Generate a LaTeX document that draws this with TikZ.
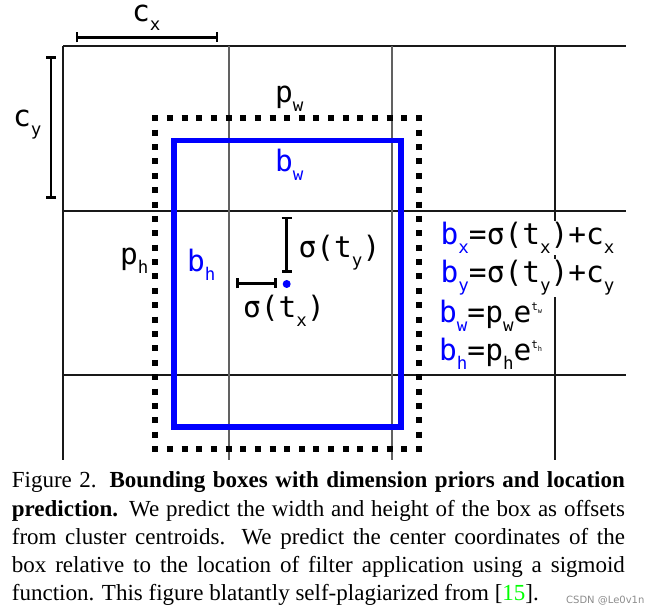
\documentclass[tikz,border=0pt]{standalone}
\usepackage{fontspec}
\setmainfont{Liberation Serif}
\newfontfamily\dvs{DejaVu Sans}
\newfontfamily\dvm{DejaVu Sans Mono}
\usetikzlibrary{arrows.meta}
\newcommand{\sbx}[1]{\raisebox{-9pt}{\fontsize{17.5}{17.5}\selectfont #1}}
\newcommand{\spx}[2]{\raisebox{12pt}{\fontsize{11}{11}\selectfont #1\raisebox{-3pt}{\fontsize{7}{7}\selectfont #2}}}
\begin{document}
\begin{tikzpicture}[x=1pt,y=-1pt,
  gridk/.style={line width=1.3pt, black!90},
  gridg/.style={line width=1.3pt, black!62},
  dimbar/.style={line width=2.6pt, {Bar[width=10pt]}-{Bar[width=10pt]}},
  lbl/.style={anchor=base west, inner sep=0pt, font=\dvm\fontsize{29.5}{36}\selectfont},
  eqn/.style={lbl, fill=white, inner sep=1.5pt},
  dotk/.style={line width=6pt, black},
  bbox/.style={line width=5.5pt, blue},
  captext/.style={anchor=base west, inner sep=0pt, font=\fontsize{23}{26}\selectfont}]
\useasboundingbox (0,0) rectangle (657,615);
% grid
\draw[gridk] (63,46) -- (626,46);
\draw[gridk] (63,211) -- (626,211);
\draw[gridk] (63,375) -- (626,375);
\draw[gridk] (63,46) -- (63,460);
\draw[gridg] (229,46) -- (229,460);
\draw[gridg] (392,46) -- (392,460);
\draw[gridk] (555,46) -- (555,460);
% prior box (dotted)
\draw[dotk, dash pattern=on 6pt off 8.65pt] (152.3,118.3) -- (422,118.3);
\draw[dotk, dash pattern=on 6pt off 8.65pt] (152.3,449) -- (422,449);
\draw[dotk, dash pattern=on 6pt off 8.38pt] (155.3,115.3) -- (155.3,452);
\draw[dotk, dash pattern=on 6pt off 8.38pt] (419,115.3) -- (419,452);
% predicted box
\draw[bbox] (174,140.5) rectangle (400.8,427);
% dimension bars
\coordinate (cxa) at (75.7,37.3);
\coordinate (cxb) at (218.3,37.3);
\coordinate (cya) at (51,56);
\coordinate (cyb) at (51,199);
\coordinate (tya) at (286.7,216.7);
\coordinate (tyb) at (286.7,272.7);
\coordinate (txa) at (236,283.3);
\coordinate (txb) at (276.7,283.3);
\draw[dimbar] (cxa) -- (cxb);
\draw[dimbar] (cya) -- (cyb);
\draw[dimbar] (tya) -- (tyb);
\draw[dimbar] (txa) -- (txb);
\fill[blue] (286.7,284) circle (4pt);
% labels
\node[lbl] (cx) at (132,21.7) {c\sbx{x}};
\node[lbl] (cy) at (13,126.7) {c\sbx{y}};
\node[lbl] (pw) at (275,103) {p\sbx{w}};
\node[lbl, text=blue] (bw) at (275,171.7) {b\sbx{w}};
\node[lbl] (ph) at (120,265) {p\sbx{h}};
\node[lbl, text=blue] (bh) at (187,271.7) {b\sbx{h}};
\node[lbl] (sty) at (298.5,258) {σ(t\sbx{y})};
\node[lbl] (stx) at (243,318) {σ(t\sbx{x})};
% equations
\node[eqn] (e1) at (439,245) {{\color{blue}b\sbx{x}}=σ(t\sbx{x})+c\sbx{x}};
\node[eqn] (e2) at (439,283) {{\color{blue}b\sbx{y}}=σ(t\sbx{y})+c\sbx{y}};
\node[lbl] (e3) at (439,322.7) {{\color{blue}b\sbx{w}}=p\sbx{w}e\spx{t}{w}};
\node[lbl] (e4) at (439,360) {{\color{blue}b\sbx{h}}=p\sbx{h}e\spx{t}{h}};
% caption
\node[captext] (l1) at (11.7,487.5) {\makebox[613pt][s]{Figure 2. \textbf{Bounding boxes with dimension priors and location}}};
\node[captext] (l2) at (11.7,516) {\makebox[613pt][s]{\textbf{prediction.} We predict the width and height of the box as offsets}};
\node[captext] (l3) at (11.7,544) {\makebox[613pt][s]{from cluster centroids. We predict the center coordinates of the}};
\node[captext] (l4) at (11.7,572) {\makebox[613pt][s]{box relative to the location of filter application using a sigmoid}};
\node[captext] (l5) at (11.7,600) {function. This figure blatantly self-plagiarized from [{\color{green}15}].};
\node[anchor=base west, inner sep=0pt, font=\dvs\fontsize{10}{12}\selectfont, text=black!45] (wm) at (566,603) {CSDN @Le0v1n};
\end{tikzpicture}
\end{document}
